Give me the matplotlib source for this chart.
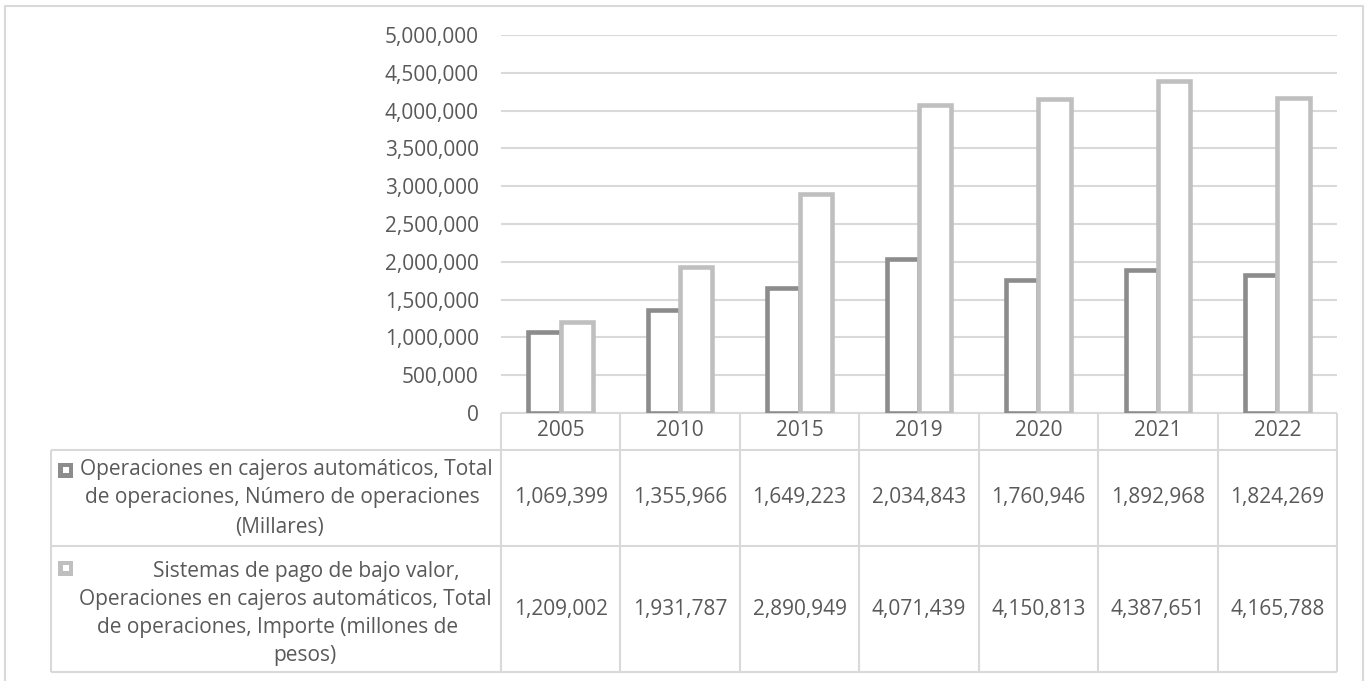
import matplotlib.pyplot as plt
from matplotlib.patches import Rectangle
from matplotlib.transforms import blended_transform_factory
from matplotlib.ticker import FuncFormatter

years = ['2005', '2010', '2015', '2019', '2020', '2021', '2022']
num_operaciones = [1069399, 1355966, 1649223, 2034843, 1760946, 1892968, 1824269]
importe = [1209002, 1931787, 2890949, 4071439, 4150813, 4387651, 4165788]

label_num = ['Operaciones en cajeros automáticos, Total',
             'de operaciones, Número de operaciones',
             '(Millares)']
label_imp = ['Sistemas de pago de bajo valor,',
             'Operaciones en cajeros automáticos, Total',
             'de operaciones, Importe (millones de',
             'pesos)']

dark = '#8c8c8c'
light = '#bfbfbf'
grid = '#d9d9d9'
text_color = '#595959'
font = 'Open Sans'
fs = 15

W, H = 1368, 681
fig = plt.figure(figsize=(W / 100, H / 100), dpi=100)
fig.patch.set_facecolor('white')

# overlay in pixel coordinates (origin top-left) for the data table
over = fig.add_axes([0, 0, 1, 1])
over.set_xlim(0, W)
over.set_ylim(H, 0)
over.axis('off')

# plot area
left, right, top, bottom = 501, 1337, 35, 413
ax = fig.add_axes([left / W, (H - bottom) / H, (right - left) / W, (bottom - top) / H])
ax.set_facecolor('none')

x = list(range(len(years)))
bw = 0.27
ax.bar([i - bw / 2 for i in x], num_operaciones, width=bw, facecolor='white',
       edgecolor=dark, linewidth=3.3, zorder=3)
ax.bar([i + bw / 2 for i in x], importe, width=bw, facecolor='white',
       edgecolor=light, linewidth=3.3, zorder=3)

ax.set_xlim(-0.5, len(years) - 0.5)
ax.set_ylim(0, 5000000)
ax.set_yticks(range(0, 5000001, 500000))
ax.yaxis.set_major_formatter(FuncFormatter(lambda v, p: f'{int(v):,}'))
ax.set_xticks([])
ax.tick_params(axis='y', length=0, pad=16, labelsize=fs, labelcolor=text_color)
for lab in ax.get_yticklabels():
    lab.set_fontfamily(font)
ax.grid(axis='y', color=grid, linewidth=1.5, zorder=0)
for s in ax.spines.values():
    s.set_visible(False)

# data table below the plot
tr = blended_transform_factory(ax.transData, over.transData)
line_kw = dict(color=grid, linewidth=1.5, solid_capstyle='butt')
row_top, row_mid, row_low, row_end = 413, 450, 546, 672

over.plot([left, right], [row_top, row_top], **line_kw)
for yy in [row_mid, row_low, row_end]:
    over.plot([51, right], [yy, yy], **line_kw)
over.plot([51, 51], [row_mid, row_end], **line_kw)
for i in range(len(years) + 1):
    over.plot([i - 0.5, i - 0.5], [row_top, row_end], transform=tr, **line_kw)

txt = dict(color=text_color, fontsize=fs, family=font, ha='center', va='center')
for i, yr in enumerate(years):
    over.text(i, 431, yr, transform=tr, **txt)
    over.text(i, 498, f'{num_operaciones[i]:,}', transform=tr, **txt)
    over.text(i, 609, f'{importe[i]:,}', transform=tr, **txt)

# row labels with legend keys
for line, cx, cy in zip(label_num, [286, 282, 279], [470, 498, 527]):
    over.text(cx, cy, line, **txt)
for line, cx, cy in zip(label_imp, [306, 285, 278, 305], [572, 600, 628, 656]):
    over.text(cx, cy, line, **txt)
for color, cy in [(dark, 470), (light, 568)]:
    over.add_patch(Rectangle((58, cy - 7.5), 15, 15, facecolor=color, edgecolor='none'))
    over.add_patch(Rectangle((62.5, cy - 3), 6, 6, facecolor='white', edgecolor='none'))

# chart border
over.plot([5, 5, 1363, 1363], [H + 5, 6, 6, H + 5], color=grid, linewidth=1.5)

fig.savefig('out.png', dpi=100)
